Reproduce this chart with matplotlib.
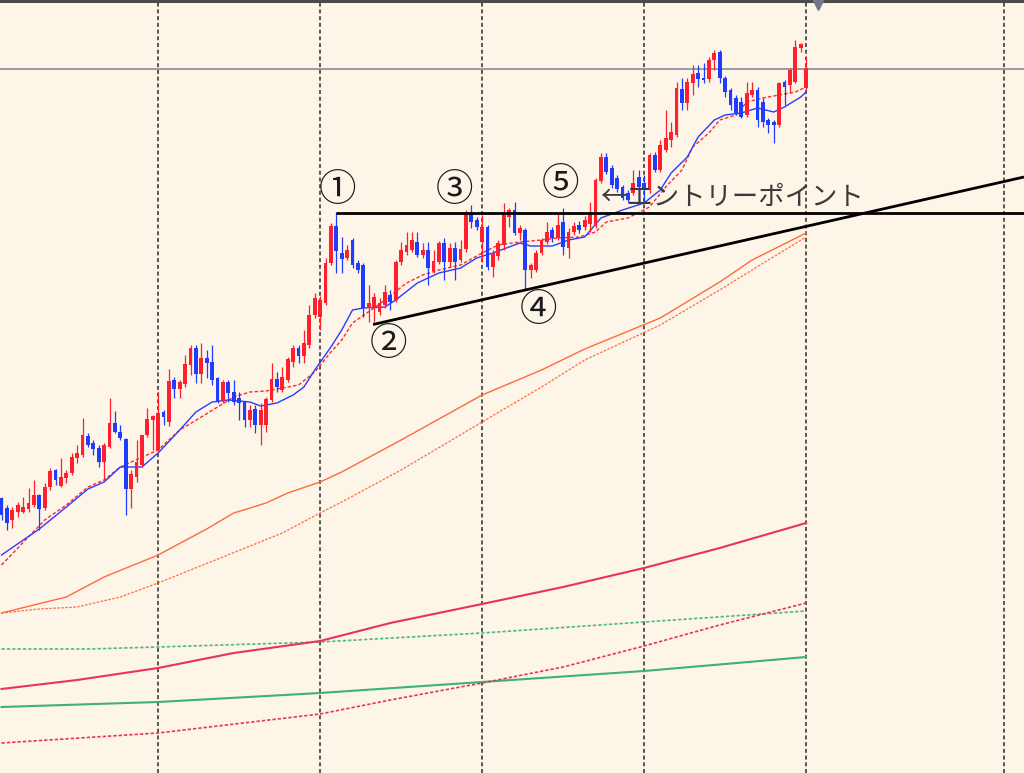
import matplotlib
matplotlib.use('Agg')
import matplotlib.pyplot as plt
import numpy as np

plt.rcParams['font.family'] = ['Noto Sans CJK JP', 'DejaVu Sans']

BG = '#fdf5e8'
UP = '#ff1f2d'
DOWN = '#1f3cff'

# candle levels, as pixel rows (smaller = higher price)
opens = [498, 508, 520, 512, 512, 509, 505, 495, 508, 487,
         470, 486, 478, 473, 458, 455, 436, 443, 448, 462,
         447, 423, 432, 439, 489, 477, 465, 435, 420, 450,
         412, 422, 380, 389, 384, 365, 348, 374, 358, 362,
         378, 401, 382, 392, 398, 402, 420, 409, 425, 425,
         400, 379, 390, 380, 362, 348, 356, 345, 315, 317,
         303, 263, 226, 253, 258, 240, 263, 265, 308, 308,
         312, 305, 295, 300, 262, 252, 250, 242, 255, 250,
         271, 262, 243, 262, 248, 260, 249, 213, 220, 242,
         227, 267, 256, 245, 217, 210, 233, 230, 270, 270,
         253, 242, 230, 238, 222, 248, 232, 225, 227, 224,
         226, 181, 157, 168, 178, 187, 193, 193, 177, 183,
         190, 155, 170, 150, 140, 135, 89, 103, 83, 73,
         78, 79, 60, 52, 78, 90, 98, 102, 115, 95,
         90, 102, 120, 122, 125, 82, 85, 82, 48, 88]
highs = [497, 505, 507, 502, 497, 488, 480, 494, 483, 468,
         469, 458, 470, 453, 445, 418, 433, 440, 445, 443,
         398, 411, 425, 438, 470, 440, 435, 408, 415, 392,
         410, 369, 377, 380, 355, 345, 345, 343, 350, 345,
         377, 380, 380, 380, 392, 401, 405, 405, 403, 397,
         363, 372, 367, 357, 345, 345, 330, 305, 293, 296,
         258, 223, 212, 237, 245, 238, 260, 263, 285, 293,
         298, 285, 290, 260, 242, 232, 232, 232, 243, 242,
         250, 241, 238, 243, 242, 240, 210, 205, 217, 215,
         225, 250, 240, 203, 208, 202, 225, 228, 263, 250,
         238, 222, 227, 213, 208, 228, 222, 221, 216, 202,
         178, 153, 153, 165, 175, 185, 190, 170, 170, 175,
         153, 152, 140, 110, 122, 82, 78, 78, 65, 65,
         63, 57, 50, 50, 76, 88, 95, 97, 82, 82,
         87, 98, 118, 120, 82, 80, 68, 40, 43, 57]
lows = [520, 530, 528, 517, 513, 512, 507, 530, 510, 490,
        485, 487, 483, 475, 463, 457, 447, 455, 467, 480,
        448, 433, 440, 515, 508, 482, 467, 437, 450, 452,
        425, 426, 398, 398, 387, 375, 383, 383, 378, 385,
        403, 403, 402, 405, 420, 427, 427, 433, 445, 432,
        402, 392, 392, 382, 367, 363, 363, 348, 318, 330,
        305, 265, 273, 273, 260, 268, 273, 317, 322, 322,
        315, 308, 310, 302, 265, 255, 252, 257, 258, 285,
        273, 264, 280, 267, 280, 262, 252, 228, 230, 262,
        270, 277, 260, 250, 227, 235, 240, 290, 278, 272,
        255, 244, 242, 240, 255, 258, 235, 233, 230, 232,
        228, 183, 174, 188, 192, 200, 202, 195, 190, 203,
        193, 172, 172, 152, 147, 137, 110, 110, 95, 87,
        83, 82, 70, 83, 97, 110, 115, 118, 117, 97,
        127, 127, 133, 143, 127, 105, 93, 83, 52, 90]
closes = [515, 523, 510, 505, 507, 503, 495, 509, 487, 471,
          480, 477, 473, 457, 453, 435, 445, 449, 462, 445,
          423, 432, 438, 489, 474, 462, 435, 419, 416, 413,
          417, 381, 389, 382, 364, 348, 374, 358, 363, 380,
          401, 382, 393, 402, 403, 420, 410, 425, 410, 399,
          379, 387, 377, 359, 348, 356, 343, 315, 298, 300,
          263, 226, 251, 259, 250, 265, 270, 308, 303, 297,
          303, 292, 302, 262, 250, 245, 240, 255, 250, 268,
          261, 243, 262, 248, 262, 249, 214, 222, 227, 227,
          267, 253, 243, 213, 210, 233, 228, 270, 265, 253,
          240, 232, 238, 225, 247, 232, 226, 230, 220, 212,
          180, 157, 172, 185, 189, 198, 200, 183, 187, 190,
          155, 170, 145, 138, 132, 88, 103, 82, 74, 79,
          80, 60, 53, 78, 92, 105, 113, 117, 93, 90,
          120, 122, 125, 125, 83, 87, 70, 47, 44, 68]

# moving averages (bar index, level)
fast_bar = [0, 7, 12, 16, 19, 22, 26, 29, 33, 36, 39, 42, 46, 48, 51, 54, 56,
            58, 61, 63, 65, 67, 71, 73, 77, 81, 85, 88, 91, 94, 96, 98, 102,
            105, 108, 111, 115, 119, 122, 124, 127, 129, 132, 134, 137, 140,
            143, 145, 148, 149]
fast_y = [555, 529, 507, 489, 482, 467, 467, 453, 430, 412, 402, 400, 402,
          406, 403, 395, 387, 370, 347, 330, 310, 308, 307, 300, 283, 273,
          268, 258, 253, 247, 243, 246, 246, 240, 237, 218, 210, 203, 190,
          173, 157, 137, 120, 115, 113, 108, 112, 107, 97, 92]
fast2_bar = [0, 8, 12, 16, 19, 22, 29, 33, 37, 40, 43, 46, 49, 52, 55, 58, 61,
             63, 65, 69, 71, 75, 78, 81, 85, 89, 92, 96, 100, 103, 107, 110,
             112, 116, 120, 123, 126, 128, 131, 133, 136, 138, 141, 144, 147,
             149]
fast2_y = [565, 520, 505, 487, 480, 467, 450, 430, 417, 407, 397, 392, 391,
           388, 385, 372, 352, 340, 323, 308, 300, 283, 275, 270, 265, 253,
           245, 242, 240, 238, 237, 232, 222, 218, 207, 187, 170, 147, 133,
           120, 115, 102, 98, 95, 92, 87]
mid_bar = [0, 12, 19, 29, 38, 43, 49, 53, 59, 63, 74, 89, 100, 108, 122, 133,
           139, 149]
mid_y = [613, 597, 577, 555, 529, 513, 503, 493, 482, 472, 440, 395, 370,
         349, 318, 282, 260, 233]
mid2_bar = [0, 7, 14, 22, 29, 41, 52, 59, 63, 74, 89, 100, 108, 122, 133, 142,
            149]
mid2_y = [613, 609, 607, 597, 583, 557, 533, 513, 502, 470, 422, 387, 360,
          325, 290, 260, 237]
long_bar = [0, 14, 29, 43, 59, 72, 89, 104, 119, 133, 149]
long_y = [689, 680, 668, 653, 641, 623, 604, 587, 568, 548, 523]
long2_bar = [0, 29, 59, 72, 89, 104, 119, 133, 149]
long2_y = [743, 733, 714, 700, 683, 667, 646, 625, 603]
slow_bar = [0, 29, 59, 89, 119, 149]
slow_y = [707, 702, 693, 682, 671, 657]
slow2_bar = [0, 16, 29, 59, 89, 119, 149]
slow2_y = [649, 649, 647, 642, 633, 622, 611]

# drawn objects
period_lines = [29, 59, 89, 119, 149, 185.7]
price_line = 69
resist_start, resist_level = 62, 213
trend_x = [68.8, 189.35]
trend_y = [324.5, 177]
labels = ['①', '②', '③', '④', '⑤']
label_x = [62.3, 71.6, 83.8, 99.5, 103.6]
label_y = [191, 345, 191, 311, 185]
entry_text = '←エントリーポイント'
entry_x, entry_y = 110.8, 197

fig = plt.figure(figsize=(10.24, 7.73), dpi=100)
fig.patch.set_facecolor(BG)
ax = fig.add_axes([0, 0, 1, 1])
ax.set_facecolor(BG)
ax.set_xlim(-0.28, 189.35)
ax.set_ylim(773, 0)
ax.axis('off')

for v in period_lines:
    ax.axvline(v, color='#2b2b2b', lw=1.1, ls=(0, (2.6, 1.8)), zorder=1)
ax.axhline(price_line, color='#8c96a3', lw=1.3, zorder=1)
ax.axhline(1.0, color='#4a4a4a', lw=2.2, zorder=6)
ax.plot([151.2], [3.5], marker='v', ms=9, color='#6e7889', zorder=6)

ax.plot(slow2_bar, slow2_y, color='#4cbb7f', lw=1.2, ls=(0, (2, 1.2)), zorder=2)
ax.plot(slow_bar, slow_y, color='#3cb371', lw=1.5, zorder=2)
ax.plot(long2_bar, long2_y, color='#e8345a', lw=1.2, ls=(0, (2, 1.2)), zorder=2)
ax.plot(long_bar, long_y, color='#e8345a', lw=1.5, zorder=2)
ax.plot(mid2_bar, mid2_y, color='#ff6b3d', lw=0.9, ls=(0, (2, 1.2)), zorder=2)
ax.plot(mid_bar, mid_y, color='#ff6b3d', lw=1.0, zorder=2)
ax.plot(fast2_bar, fast2_y, color='#ff2a2a', lw=1.0, ls=(0, (2.5, 1.5)), zorder=2)
ax.plot(fast_bar, fast_y, color='#2a3cff', lw=1.0, zorder=2)

o = np.array(opens)
c = np.array(closes)
bars = np.arange(len(o))
cols = np.where(c < o, UP, DOWN)
ax.vlines(bars, highs, lows, colors=cols, lw=0.9, zorder=3)
body = np.maximum(np.abs(c - o), 1.5)
ax.bar(bars, body, bottom=np.minimum(o, c), width=0.72, color=cols, zorder=3.5)

ax.plot([resist_start, 189.35], [resist_level, resist_level], color='black',
        lw=2.0, zorder=4, solid_capstyle='butt')
ax.plot(trend_x, trend_y, color='black', lw=2.0, zorder=4, solid_capstyle='butt')

for t, x, y in zip(labels, label_x, label_y):
    ax.text(x, y, t, fontsize=27, ha='center', va='center', color='#1a1a1a', zorder=5)
ax.text(entry_x, entry_y, entry_text, fontsize=19, ha='left', va='center',
        color='#3a3a3a', zorder=5)

fig.savefig('out.png', dpi=100, facecolor=BG)
